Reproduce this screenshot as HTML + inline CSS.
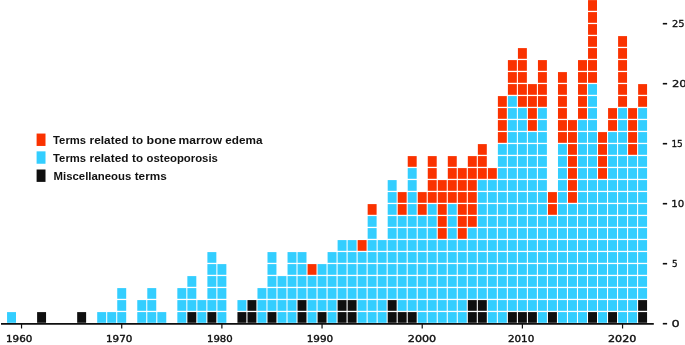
<!DOCTYPE html>
<html lang="en">
<head>
<meta charset="utf-8">
<title>Terms per year</title>
<style>
html,body{margin:0;padding:0;background:#fff;}
body{width:685px;height:345px;overflow:hidden;}
svg{display:block;}
.lg{font-family:"Liberation Sans",sans-serif;font-weight:bold;font-size:11.6px;fill:#111;}
.ax{font-family:"DejaVu Sans","Liberation Sans",sans-serif;font-size:8.8px;fill:#0f0f0f;stroke:#0f0f0f;stroke-width:0.35px;}
.ay{font-family:"DejaVu Sans","Liberation Sans",sans-serif;font-size:9.4px;fill:#0f0f0f;stroke:#0f0f0f;stroke-width:0.3px;}
</style>
</head>
<body>
<svg width="685" height="345" viewBox="0 0 685 345">
<rect x="0" y="0" width="685" height="345" fill="#ffffff"/>
<g fill="#33ceff">
<rect x="7.05" y="312.10" width="8.95" height="10.70"/>
<rect x="97.20" y="312.10" width="8.95" height="10.70"/>
<rect x="107.22" y="312.10" width="8.95" height="10.70"/>
<rect x="117.24" y="312.10" width="8.95" height="10.70"/>
<rect x="117.24" y="300.10" width="8.95" height="10.70"/>
<rect x="117.24" y="288.10" width="8.95" height="10.70"/>
<rect x="137.27" y="312.10" width="8.95" height="10.70"/>
<rect x="137.27" y="300.10" width="8.95" height="10.70"/>
<rect x="147.29" y="312.10" width="8.95" height="10.70"/>
<rect x="147.29" y="300.10" width="8.95" height="10.70"/>
<rect x="147.29" y="288.10" width="8.95" height="10.70"/>
<rect x="157.31" y="312.10" width="8.95" height="10.70"/>
<rect x="177.34" y="312.10" width="8.95" height="10.70"/>
<rect x="177.34" y="300.10" width="8.95" height="10.70"/>
<rect x="177.34" y="288.10" width="8.95" height="10.70"/>
<rect x="187.36" y="300.10" width="8.95" height="10.70"/>
<rect x="187.36" y="288.10" width="8.95" height="10.70"/>
<rect x="187.36" y="276.10" width="8.95" height="10.70"/>
<rect x="197.37" y="312.10" width="8.95" height="10.70"/>
<rect x="197.37" y="300.10" width="8.95" height="10.70"/>
<rect x="207.39" y="300.10" width="8.95" height="10.70"/>
<rect x="207.39" y="288.10" width="8.95" height="10.70"/>
<rect x="207.39" y="276.10" width="8.95" height="10.70"/>
<rect x="207.39" y="264.10" width="8.95" height="10.70"/>
<rect x="207.39" y="252.10" width="8.95" height="10.70"/>
<rect x="217.41" y="312.10" width="8.95" height="10.70"/>
<rect x="217.41" y="300.10" width="8.95" height="10.70"/>
<rect x="217.41" y="288.10" width="8.95" height="10.70"/>
<rect x="217.41" y="276.10" width="8.95" height="10.70"/>
<rect x="217.41" y="264.10" width="8.95" height="10.70"/>
<rect x="237.44" y="300.10" width="8.95" height="10.70"/>
<rect x="257.47" y="312.10" width="8.95" height="10.70"/>
<rect x="257.47" y="300.10" width="8.95" height="10.70"/>
<rect x="257.47" y="288.10" width="8.95" height="10.70"/>
<rect x="267.49" y="300.10" width="8.95" height="10.70"/>
<rect x="267.49" y="288.10" width="8.95" height="10.70"/>
<rect x="267.49" y="276.10" width="8.95" height="10.70"/>
<rect x="267.49" y="264.10" width="8.95" height="10.70"/>
<rect x="267.49" y="252.10" width="8.95" height="10.70"/>
<rect x="277.51" y="312.10" width="8.95" height="10.70"/>
<rect x="277.51" y="300.10" width="8.95" height="10.70"/>
<rect x="277.51" y="288.10" width="8.95" height="10.70"/>
<rect x="277.51" y="276.10" width="8.95" height="10.70"/>
<rect x="287.53" y="312.10" width="8.95" height="10.70"/>
<rect x="287.53" y="300.10" width="8.95" height="10.70"/>
<rect x="287.53" y="288.10" width="8.95" height="10.70"/>
<rect x="287.53" y="276.10" width="8.95" height="10.70"/>
<rect x="287.53" y="264.10" width="8.95" height="10.70"/>
<rect x="287.53" y="252.10" width="8.95" height="10.70"/>
<rect x="297.54" y="288.10" width="8.95" height="10.70"/>
<rect x="297.54" y="276.10" width="8.95" height="10.70"/>
<rect x="297.54" y="264.10" width="8.95" height="10.70"/>
<rect x="297.54" y="252.10" width="8.95" height="10.70"/>
<rect x="307.56" y="312.10" width="8.95" height="10.70"/>
<rect x="307.56" y="300.10" width="8.95" height="10.70"/>
<rect x="307.56" y="288.10" width="8.95" height="10.70"/>
<rect x="307.56" y="276.10" width="8.95" height="10.70"/>
<rect x="317.58" y="300.10" width="8.95" height="10.70"/>
<rect x="317.58" y="288.10" width="8.95" height="10.70"/>
<rect x="317.58" y="276.10" width="8.95" height="10.70"/>
<rect x="317.58" y="264.10" width="8.95" height="10.70"/>
<rect x="327.59" y="312.10" width="8.95" height="10.70"/>
<rect x="327.59" y="300.10" width="8.95" height="10.70"/>
<rect x="327.59" y="288.10" width="8.95" height="10.70"/>
<rect x="327.59" y="276.10" width="8.95" height="10.70"/>
<rect x="327.59" y="264.10" width="8.95" height="10.70"/>
<rect x="327.59" y="252.10" width="8.95" height="10.70"/>
<rect x="337.61" y="288.10" width="8.95" height="10.70"/>
<rect x="337.61" y="276.10" width="8.95" height="10.70"/>
<rect x="337.61" y="264.10" width="8.95" height="10.70"/>
<rect x="337.61" y="252.10" width="8.95" height="10.70"/>
<rect x="337.61" y="240.10" width="8.95" height="10.70"/>
<rect x="347.63" y="288.10" width="8.95" height="10.70"/>
<rect x="347.63" y="276.10" width="8.95" height="10.70"/>
<rect x="347.63" y="264.10" width="8.95" height="10.70"/>
<rect x="347.63" y="252.10" width="8.95" height="10.70"/>
<rect x="347.63" y="240.10" width="8.95" height="10.70"/>
<rect x="357.64" y="312.10" width="8.95" height="10.70"/>
<rect x="357.64" y="300.10" width="8.95" height="10.70"/>
<rect x="357.64" y="288.10" width="8.95" height="10.70"/>
<rect x="357.64" y="276.10" width="8.95" height="10.70"/>
<rect x="357.64" y="264.10" width="8.95" height="10.70"/>
<rect x="357.64" y="252.10" width="8.95" height="10.70"/>
<rect x="367.66" y="312.10" width="8.95" height="10.70"/>
<rect x="367.66" y="300.10" width="8.95" height="10.70"/>
<rect x="367.66" y="288.10" width="8.95" height="10.70"/>
<rect x="367.66" y="276.10" width="8.95" height="10.70"/>
<rect x="367.66" y="264.10" width="8.95" height="10.70"/>
<rect x="367.66" y="252.10" width="8.95" height="10.70"/>
<rect x="367.66" y="240.10" width="8.95" height="10.70"/>
<rect x="367.66" y="228.10" width="8.95" height="10.70"/>
<rect x="367.66" y="216.10" width="8.95" height="10.70"/>
<rect x="377.68" y="312.10" width="8.95" height="10.70"/>
<rect x="377.68" y="300.10" width="8.95" height="10.70"/>
<rect x="377.68" y="288.10" width="8.95" height="10.70"/>
<rect x="377.68" y="276.10" width="8.95" height="10.70"/>
<rect x="377.68" y="264.10" width="8.95" height="10.70"/>
<rect x="377.68" y="252.10" width="8.95" height="10.70"/>
<rect x="377.68" y="240.10" width="8.95" height="10.70"/>
<rect x="387.70" y="288.10" width="8.95" height="10.70"/>
<rect x="387.70" y="276.10" width="8.95" height="10.70"/>
<rect x="387.70" y="264.10" width="8.95" height="10.70"/>
<rect x="387.70" y="252.10" width="8.95" height="10.70"/>
<rect x="387.70" y="240.10" width="8.95" height="10.70"/>
<rect x="387.70" y="228.10" width="8.95" height="10.70"/>
<rect x="387.70" y="216.10" width="8.95" height="10.70"/>
<rect x="387.70" y="204.10" width="8.95" height="10.70"/>
<rect x="387.70" y="192.10" width="8.95" height="10.70"/>
<rect x="387.70" y="180.10" width="8.95" height="10.70"/>
<rect x="397.71" y="300.10" width="8.95" height="10.70"/>
<rect x="397.71" y="288.10" width="8.95" height="10.70"/>
<rect x="397.71" y="276.10" width="8.95" height="10.70"/>
<rect x="397.71" y="264.10" width="8.95" height="10.70"/>
<rect x="397.71" y="252.10" width="8.95" height="10.70"/>
<rect x="397.71" y="240.10" width="8.95" height="10.70"/>
<rect x="397.71" y="228.10" width="8.95" height="10.70"/>
<rect x="397.71" y="216.10" width="8.95" height="10.70"/>
<rect x="407.73" y="300.10" width="8.95" height="10.70"/>
<rect x="407.73" y="288.10" width="8.95" height="10.70"/>
<rect x="407.73" y="276.10" width="8.95" height="10.70"/>
<rect x="407.73" y="264.10" width="8.95" height="10.70"/>
<rect x="407.73" y="252.10" width="8.95" height="10.70"/>
<rect x="407.73" y="240.10" width="8.95" height="10.70"/>
<rect x="407.73" y="228.10" width="8.95" height="10.70"/>
<rect x="407.73" y="216.10" width="8.95" height="10.70"/>
<rect x="407.73" y="204.10" width="8.95" height="10.70"/>
<rect x="407.73" y="192.10" width="8.95" height="10.70"/>
<rect x="407.73" y="180.10" width="8.95" height="10.70"/>
<rect x="407.73" y="168.10" width="8.95" height="10.70"/>
<rect x="417.75" y="312.10" width="8.95" height="10.70"/>
<rect x="417.75" y="300.10" width="8.95" height="10.70"/>
<rect x="417.75" y="288.10" width="8.95" height="10.70"/>
<rect x="417.75" y="276.10" width="8.95" height="10.70"/>
<rect x="417.75" y="264.10" width="8.95" height="10.70"/>
<rect x="417.75" y="252.10" width="8.95" height="10.70"/>
<rect x="417.75" y="240.10" width="8.95" height="10.70"/>
<rect x="417.75" y="228.10" width="8.95" height="10.70"/>
<rect x="417.75" y="216.10" width="8.95" height="10.70"/>
<rect x="427.76" y="312.10" width="8.95" height="10.70"/>
<rect x="427.76" y="300.10" width="8.95" height="10.70"/>
<rect x="427.76" y="288.10" width="8.95" height="10.70"/>
<rect x="427.76" y="276.10" width="8.95" height="10.70"/>
<rect x="427.76" y="264.10" width="8.95" height="10.70"/>
<rect x="427.76" y="252.10" width="8.95" height="10.70"/>
<rect x="427.76" y="240.10" width="8.95" height="10.70"/>
<rect x="427.76" y="228.10" width="8.95" height="10.70"/>
<rect x="427.76" y="216.10" width="8.95" height="10.70"/>
<rect x="427.76" y="204.10" width="8.95" height="10.70"/>
<rect x="437.78" y="312.10" width="8.95" height="10.70"/>
<rect x="437.78" y="300.10" width="8.95" height="10.70"/>
<rect x="437.78" y="288.10" width="8.95" height="10.70"/>
<rect x="437.78" y="276.10" width="8.95" height="10.70"/>
<rect x="437.78" y="264.10" width="8.95" height="10.70"/>
<rect x="437.78" y="252.10" width="8.95" height="10.70"/>
<rect x="437.78" y="240.10" width="8.95" height="10.70"/>
<rect x="447.80" y="312.10" width="8.95" height="10.70"/>
<rect x="447.80" y="300.10" width="8.95" height="10.70"/>
<rect x="447.80" y="288.10" width="8.95" height="10.70"/>
<rect x="447.80" y="276.10" width="8.95" height="10.70"/>
<rect x="447.80" y="264.10" width="8.95" height="10.70"/>
<rect x="447.80" y="252.10" width="8.95" height="10.70"/>
<rect x="447.80" y="240.10" width="8.95" height="10.70"/>
<rect x="447.80" y="228.10" width="8.95" height="10.70"/>
<rect x="447.80" y="216.10" width="8.95" height="10.70"/>
<rect x="447.80" y="204.10" width="8.95" height="10.70"/>
<rect x="457.81" y="312.10" width="8.95" height="10.70"/>
<rect x="457.81" y="300.10" width="8.95" height="10.70"/>
<rect x="457.81" y="288.10" width="8.95" height="10.70"/>
<rect x="457.81" y="276.10" width="8.95" height="10.70"/>
<rect x="457.81" y="264.10" width="8.95" height="10.70"/>
<rect x="457.81" y="252.10" width="8.95" height="10.70"/>
<rect x="457.81" y="240.10" width="8.95" height="10.70"/>
<rect x="467.83" y="288.10" width="8.95" height="10.70"/>
<rect x="467.83" y="276.10" width="8.95" height="10.70"/>
<rect x="467.83" y="264.10" width="8.95" height="10.70"/>
<rect x="467.83" y="252.10" width="8.95" height="10.70"/>
<rect x="467.83" y="240.10" width="8.95" height="10.70"/>
<rect x="467.83" y="228.10" width="8.95" height="10.70"/>
<rect x="477.85" y="288.10" width="8.95" height="10.70"/>
<rect x="477.85" y="276.10" width="8.95" height="10.70"/>
<rect x="477.85" y="264.10" width="8.95" height="10.70"/>
<rect x="477.85" y="252.10" width="8.95" height="10.70"/>
<rect x="477.85" y="240.10" width="8.95" height="10.70"/>
<rect x="477.85" y="228.10" width="8.95" height="10.70"/>
<rect x="477.85" y="216.10" width="8.95" height="10.70"/>
<rect x="477.85" y="204.10" width="8.95" height="10.70"/>
<rect x="477.85" y="192.10" width="8.95" height="10.70"/>
<rect x="477.85" y="180.10" width="8.95" height="10.70"/>
<rect x="487.87" y="312.10" width="8.95" height="10.70"/>
<rect x="487.87" y="300.10" width="8.95" height="10.70"/>
<rect x="487.87" y="288.10" width="8.95" height="10.70"/>
<rect x="487.87" y="276.10" width="8.95" height="10.70"/>
<rect x="487.87" y="264.10" width="8.95" height="10.70"/>
<rect x="487.87" y="252.10" width="8.95" height="10.70"/>
<rect x="487.87" y="240.10" width="8.95" height="10.70"/>
<rect x="487.87" y="228.10" width="8.95" height="10.70"/>
<rect x="487.87" y="216.10" width="8.95" height="10.70"/>
<rect x="487.87" y="204.10" width="8.95" height="10.70"/>
<rect x="487.87" y="192.10" width="8.95" height="10.70"/>
<rect x="487.87" y="180.10" width="8.95" height="10.70"/>
<rect x="497.88" y="312.10" width="8.95" height="10.70"/>
<rect x="497.88" y="300.10" width="8.95" height="10.70"/>
<rect x="497.88" y="288.10" width="8.95" height="10.70"/>
<rect x="497.88" y="276.10" width="8.95" height="10.70"/>
<rect x="497.88" y="264.10" width="8.95" height="10.70"/>
<rect x="497.88" y="252.10" width="8.95" height="10.70"/>
<rect x="497.88" y="240.10" width="8.95" height="10.70"/>
<rect x="497.88" y="228.10" width="8.95" height="10.70"/>
<rect x="497.88" y="216.10" width="8.95" height="10.70"/>
<rect x="497.88" y="204.10" width="8.95" height="10.70"/>
<rect x="497.88" y="192.10" width="8.95" height="10.70"/>
<rect x="497.88" y="180.10" width="8.95" height="10.70"/>
<rect x="497.88" y="168.10" width="8.95" height="10.70"/>
<rect x="497.88" y="156.10" width="8.95" height="10.70"/>
<rect x="497.88" y="144.10" width="8.95" height="10.70"/>
<rect x="507.90" y="300.10" width="8.95" height="10.70"/>
<rect x="507.90" y="288.10" width="8.95" height="10.70"/>
<rect x="507.90" y="276.10" width="8.95" height="10.70"/>
<rect x="507.90" y="264.10" width="8.95" height="10.70"/>
<rect x="507.90" y="252.10" width="8.95" height="10.70"/>
<rect x="507.90" y="240.10" width="8.95" height="10.70"/>
<rect x="507.90" y="228.10" width="8.95" height="10.70"/>
<rect x="507.90" y="216.10" width="8.95" height="10.70"/>
<rect x="507.90" y="204.10" width="8.95" height="10.70"/>
<rect x="507.90" y="192.10" width="8.95" height="10.70"/>
<rect x="507.90" y="180.10" width="8.95" height="10.70"/>
<rect x="507.90" y="168.10" width="8.95" height="10.70"/>
<rect x="507.90" y="156.10" width="8.95" height="10.70"/>
<rect x="507.90" y="144.10" width="8.95" height="10.70"/>
<rect x="507.90" y="132.10" width="8.95" height="10.70"/>
<rect x="507.90" y="120.10" width="8.95" height="10.70"/>
<rect x="507.90" y="108.10" width="8.95" height="10.70"/>
<rect x="507.90" y="96.10" width="8.95" height="10.70"/>
<rect x="517.92" y="300.10" width="8.95" height="10.70"/>
<rect x="517.92" y="288.10" width="8.95" height="10.70"/>
<rect x="517.92" y="276.10" width="8.95" height="10.70"/>
<rect x="517.92" y="264.10" width="8.95" height="10.70"/>
<rect x="517.92" y="252.10" width="8.95" height="10.70"/>
<rect x="517.92" y="240.10" width="8.95" height="10.70"/>
<rect x="517.92" y="228.10" width="8.95" height="10.70"/>
<rect x="517.92" y="216.10" width="8.95" height="10.70"/>
<rect x="517.92" y="204.10" width="8.95" height="10.70"/>
<rect x="517.92" y="192.10" width="8.95" height="10.70"/>
<rect x="517.92" y="180.10" width="8.95" height="10.70"/>
<rect x="517.92" y="168.10" width="8.95" height="10.70"/>
<rect x="517.92" y="156.10" width="8.95" height="10.70"/>
<rect x="517.92" y="144.10" width="8.95" height="10.70"/>
<rect x="517.92" y="132.10" width="8.95" height="10.70"/>
<rect x="517.92" y="120.10" width="8.95" height="10.70"/>
<rect x="517.92" y="108.10" width="8.95" height="10.70"/>
<rect x="527.93" y="300.10" width="8.95" height="10.70"/>
<rect x="527.93" y="288.10" width="8.95" height="10.70"/>
<rect x="527.93" y="276.10" width="8.95" height="10.70"/>
<rect x="527.93" y="264.10" width="8.95" height="10.70"/>
<rect x="527.93" y="252.10" width="8.95" height="10.70"/>
<rect x="527.93" y="240.10" width="8.95" height="10.70"/>
<rect x="527.93" y="228.10" width="8.95" height="10.70"/>
<rect x="527.93" y="216.10" width="8.95" height="10.70"/>
<rect x="527.93" y="204.10" width="8.95" height="10.70"/>
<rect x="527.93" y="192.10" width="8.95" height="10.70"/>
<rect x="527.93" y="180.10" width="8.95" height="10.70"/>
<rect x="527.93" y="168.10" width="8.95" height="10.70"/>
<rect x="527.93" y="156.10" width="8.95" height="10.70"/>
<rect x="527.93" y="144.10" width="8.95" height="10.70"/>
<rect x="527.93" y="132.10" width="8.95" height="10.70"/>
<rect x="537.95" y="312.10" width="8.95" height="10.70"/>
<rect x="537.95" y="300.10" width="8.95" height="10.70"/>
<rect x="537.95" y="288.10" width="8.95" height="10.70"/>
<rect x="537.95" y="276.10" width="8.95" height="10.70"/>
<rect x="537.95" y="264.10" width="8.95" height="10.70"/>
<rect x="537.95" y="252.10" width="8.95" height="10.70"/>
<rect x="537.95" y="240.10" width="8.95" height="10.70"/>
<rect x="537.95" y="228.10" width="8.95" height="10.70"/>
<rect x="537.95" y="216.10" width="8.95" height="10.70"/>
<rect x="537.95" y="204.10" width="8.95" height="10.70"/>
<rect x="537.95" y="192.10" width="8.95" height="10.70"/>
<rect x="537.95" y="180.10" width="8.95" height="10.70"/>
<rect x="537.95" y="168.10" width="8.95" height="10.70"/>
<rect x="537.95" y="156.10" width="8.95" height="10.70"/>
<rect x="537.95" y="144.10" width="8.95" height="10.70"/>
<rect x="537.95" y="132.10" width="8.95" height="10.70"/>
<rect x="537.95" y="120.10" width="8.95" height="10.70"/>
<rect x="537.95" y="108.10" width="8.95" height="10.70"/>
<rect x="547.97" y="300.10" width="8.95" height="10.70"/>
<rect x="547.97" y="288.10" width="8.95" height="10.70"/>
<rect x="547.97" y="276.10" width="8.95" height="10.70"/>
<rect x="547.97" y="264.10" width="8.95" height="10.70"/>
<rect x="547.97" y="252.10" width="8.95" height="10.70"/>
<rect x="547.97" y="240.10" width="8.95" height="10.70"/>
<rect x="547.97" y="228.10" width="8.95" height="10.70"/>
<rect x="547.97" y="216.10" width="8.95" height="10.70"/>
<rect x="557.98" y="312.10" width="8.95" height="10.70"/>
<rect x="557.98" y="300.10" width="8.95" height="10.70"/>
<rect x="557.98" y="288.10" width="8.95" height="10.70"/>
<rect x="557.98" y="276.10" width="8.95" height="10.70"/>
<rect x="557.98" y="264.10" width="8.95" height="10.70"/>
<rect x="557.98" y="252.10" width="8.95" height="10.70"/>
<rect x="557.98" y="240.10" width="8.95" height="10.70"/>
<rect x="557.98" y="228.10" width="8.95" height="10.70"/>
<rect x="557.98" y="216.10" width="8.95" height="10.70"/>
<rect x="557.98" y="204.10" width="8.95" height="10.70"/>
<rect x="557.98" y="192.10" width="8.95" height="10.70"/>
<rect x="557.98" y="180.10" width="8.95" height="10.70"/>
<rect x="557.98" y="168.10" width="8.95" height="10.70"/>
<rect x="557.98" y="156.10" width="8.95" height="10.70"/>
<rect x="557.98" y="144.10" width="8.95" height="10.70"/>
<rect x="568.00" y="312.10" width="8.95" height="10.70"/>
<rect x="568.00" y="300.10" width="8.95" height="10.70"/>
<rect x="568.00" y="288.10" width="8.95" height="10.70"/>
<rect x="568.00" y="276.10" width="8.95" height="10.70"/>
<rect x="568.00" y="264.10" width="8.95" height="10.70"/>
<rect x="568.00" y="252.10" width="8.95" height="10.70"/>
<rect x="568.00" y="240.10" width="8.95" height="10.70"/>
<rect x="568.00" y="228.10" width="8.95" height="10.70"/>
<rect x="568.00" y="216.10" width="8.95" height="10.70"/>
<rect x="568.00" y="204.10" width="8.95" height="10.70"/>
<rect x="578.02" y="312.10" width="8.95" height="10.70"/>
<rect x="578.02" y="300.10" width="8.95" height="10.70"/>
<rect x="578.02" y="288.10" width="8.95" height="10.70"/>
<rect x="578.02" y="276.10" width="8.95" height="10.70"/>
<rect x="578.02" y="264.10" width="8.95" height="10.70"/>
<rect x="578.02" y="252.10" width="8.95" height="10.70"/>
<rect x="578.02" y="240.10" width="8.95" height="10.70"/>
<rect x="578.02" y="228.10" width="8.95" height="10.70"/>
<rect x="578.02" y="216.10" width="8.95" height="10.70"/>
<rect x="578.02" y="204.10" width="8.95" height="10.70"/>
<rect x="578.02" y="192.10" width="8.95" height="10.70"/>
<rect x="578.02" y="180.10" width="8.95" height="10.70"/>
<rect x="578.02" y="168.10" width="8.95" height="10.70"/>
<rect x="578.02" y="156.10" width="8.95" height="10.70"/>
<rect x="578.02" y="144.10" width="8.95" height="10.70"/>
<rect x="578.02" y="132.10" width="8.95" height="10.70"/>
<rect x="578.02" y="120.10" width="8.95" height="10.70"/>
<rect x="588.04" y="300.10" width="8.95" height="10.70"/>
<rect x="588.04" y="288.10" width="8.95" height="10.70"/>
<rect x="588.04" y="276.10" width="8.95" height="10.70"/>
<rect x="588.04" y="264.10" width="8.95" height="10.70"/>
<rect x="588.04" y="252.10" width="8.95" height="10.70"/>
<rect x="588.04" y="240.10" width="8.95" height="10.70"/>
<rect x="588.04" y="228.10" width="8.95" height="10.70"/>
<rect x="588.04" y="216.10" width="8.95" height="10.70"/>
<rect x="588.04" y="204.10" width="8.95" height="10.70"/>
<rect x="588.04" y="192.10" width="8.95" height="10.70"/>
<rect x="588.04" y="180.10" width="8.95" height="10.70"/>
<rect x="588.04" y="168.10" width="8.95" height="10.70"/>
<rect x="588.04" y="156.10" width="8.95" height="10.70"/>
<rect x="588.04" y="144.10" width="8.95" height="10.70"/>
<rect x="588.04" y="132.10" width="8.95" height="10.70"/>
<rect x="588.04" y="120.10" width="8.95" height="10.70"/>
<rect x="588.04" y="108.10" width="8.95" height="10.70"/>
<rect x="588.04" y="96.10" width="8.95" height="10.70"/>
<rect x="588.04" y="84.10" width="8.95" height="10.70"/>
<rect x="598.05" y="312.10" width="8.95" height="10.70"/>
<rect x="598.05" y="300.10" width="8.95" height="10.70"/>
<rect x="598.05" y="288.10" width="8.95" height="10.70"/>
<rect x="598.05" y="276.10" width="8.95" height="10.70"/>
<rect x="598.05" y="264.10" width="8.95" height="10.70"/>
<rect x="598.05" y="252.10" width="8.95" height="10.70"/>
<rect x="598.05" y="240.10" width="8.95" height="10.70"/>
<rect x="598.05" y="228.10" width="8.95" height="10.70"/>
<rect x="598.05" y="216.10" width="8.95" height="10.70"/>
<rect x="598.05" y="204.10" width="8.95" height="10.70"/>
<rect x="598.05" y="192.10" width="8.95" height="10.70"/>
<rect x="598.05" y="180.10" width="8.95" height="10.70"/>
<rect x="608.07" y="300.10" width="8.95" height="10.70"/>
<rect x="608.07" y="288.10" width="8.95" height="10.70"/>
<rect x="608.07" y="276.10" width="8.95" height="10.70"/>
<rect x="608.07" y="264.10" width="8.95" height="10.70"/>
<rect x="608.07" y="252.10" width="8.95" height="10.70"/>
<rect x="608.07" y="240.10" width="8.95" height="10.70"/>
<rect x="608.07" y="228.10" width="8.95" height="10.70"/>
<rect x="608.07" y="216.10" width="8.95" height="10.70"/>
<rect x="608.07" y="204.10" width="8.95" height="10.70"/>
<rect x="608.07" y="192.10" width="8.95" height="10.70"/>
<rect x="608.07" y="180.10" width="8.95" height="10.70"/>
<rect x="608.07" y="168.10" width="8.95" height="10.70"/>
<rect x="608.07" y="156.10" width="8.95" height="10.70"/>
<rect x="608.07" y="144.10" width="8.95" height="10.70"/>
<rect x="608.07" y="132.10" width="8.95" height="10.70"/>
<rect x="618.09" y="312.10" width="8.95" height="10.70"/>
<rect x="618.09" y="300.10" width="8.95" height="10.70"/>
<rect x="618.09" y="288.10" width="8.95" height="10.70"/>
<rect x="618.09" y="276.10" width="8.95" height="10.70"/>
<rect x="618.09" y="264.10" width="8.95" height="10.70"/>
<rect x="618.09" y="252.10" width="8.95" height="10.70"/>
<rect x="618.09" y="240.10" width="8.95" height="10.70"/>
<rect x="618.09" y="228.10" width="8.95" height="10.70"/>
<rect x="618.09" y="216.10" width="8.95" height="10.70"/>
<rect x="618.09" y="204.10" width="8.95" height="10.70"/>
<rect x="618.09" y="192.10" width="8.95" height="10.70"/>
<rect x="618.09" y="180.10" width="8.95" height="10.70"/>
<rect x="618.09" y="168.10" width="8.95" height="10.70"/>
<rect x="618.09" y="156.10" width="8.95" height="10.70"/>
<rect x="618.09" y="144.10" width="8.95" height="10.70"/>
<rect x="618.09" y="132.10" width="8.95" height="10.70"/>
<rect x="618.09" y="120.10" width="8.95" height="10.70"/>
<rect x="618.09" y="108.10" width="8.95" height="10.70"/>
<rect x="628.10" y="312.10" width="8.95" height="10.70"/>
<rect x="628.10" y="300.10" width="8.95" height="10.70"/>
<rect x="628.10" y="288.10" width="8.95" height="10.70"/>
<rect x="628.10" y="276.10" width="8.95" height="10.70"/>
<rect x="628.10" y="264.10" width="8.95" height="10.70"/>
<rect x="628.10" y="252.10" width="8.95" height="10.70"/>
<rect x="628.10" y="240.10" width="8.95" height="10.70"/>
<rect x="628.10" y="228.10" width="8.95" height="10.70"/>
<rect x="628.10" y="216.10" width="8.95" height="10.70"/>
<rect x="628.10" y="204.10" width="8.95" height="10.70"/>
<rect x="628.10" y="192.10" width="8.95" height="10.70"/>
<rect x="628.10" y="180.10" width="8.95" height="10.70"/>
<rect x="628.10" y="168.10" width="8.95" height="10.70"/>
<rect x="628.10" y="156.10" width="8.95" height="10.70"/>
<rect x="638.12" y="288.10" width="8.95" height="10.70"/>
<rect x="638.12" y="276.10" width="8.95" height="10.70"/>
<rect x="638.12" y="264.10" width="8.95" height="10.70"/>
<rect x="638.12" y="252.10" width="8.95" height="10.70"/>
<rect x="638.12" y="240.10" width="8.95" height="10.70"/>
<rect x="638.12" y="228.10" width="8.95" height="10.70"/>
<rect x="638.12" y="216.10" width="8.95" height="10.70"/>
<rect x="638.12" y="204.10" width="8.95" height="10.70"/>
<rect x="638.12" y="192.10" width="8.95" height="10.70"/>
<rect x="638.12" y="180.10" width="8.95" height="10.70"/>
<rect x="638.12" y="168.10" width="8.95" height="10.70"/>
<rect x="638.12" y="156.10" width="8.95" height="10.70"/>
<rect x="638.12" y="144.10" width="8.95" height="10.70"/>
<rect x="638.12" y="132.10" width="8.95" height="10.70"/>
<rect x="638.12" y="120.10" width="8.95" height="10.70"/>
<rect x="638.12" y="108.10" width="8.95" height="10.70"/>
</g>
<g fill="#fa3200">
<rect x="307.56" y="264.10" width="8.95" height="10.70"/>
<rect x="357.64" y="240.10" width="8.95" height="10.70"/>
<rect x="367.66" y="204.10" width="8.95" height="10.70"/>
<rect x="397.71" y="204.10" width="8.95" height="10.70"/>
<rect x="397.71" y="192.10" width="8.95" height="10.70"/>
<rect x="407.73" y="156.10" width="8.95" height="10.70"/>
<rect x="417.75" y="204.10" width="8.95" height="10.70"/>
<rect x="417.75" y="192.10" width="8.95" height="10.70"/>
<rect x="427.76" y="192.10" width="8.95" height="10.70"/>
<rect x="427.76" y="180.10" width="8.95" height="10.70"/>
<rect x="427.76" y="168.10" width="8.95" height="10.70"/>
<rect x="427.76" y="156.10" width="8.95" height="10.70"/>
<rect x="437.78" y="228.10" width="8.95" height="10.70"/>
<rect x="437.78" y="216.10" width="8.95" height="10.70"/>
<rect x="437.78" y="204.10" width="8.95" height="10.70"/>
<rect x="437.78" y="192.10" width="8.95" height="10.70"/>
<rect x="437.78" y="180.10" width="8.95" height="10.70"/>
<rect x="447.80" y="192.10" width="8.95" height="10.70"/>
<rect x="447.80" y="180.10" width="8.95" height="10.70"/>
<rect x="447.80" y="168.10" width="8.95" height="10.70"/>
<rect x="447.80" y="156.10" width="8.95" height="10.70"/>
<rect x="457.81" y="228.10" width="8.95" height="10.70"/>
<rect x="457.81" y="216.10" width="8.95" height="10.70"/>
<rect x="457.81" y="204.10" width="8.95" height="10.70"/>
<rect x="457.81" y="192.10" width="8.95" height="10.70"/>
<rect x="457.81" y="180.10" width="8.95" height="10.70"/>
<rect x="457.81" y="168.10" width="8.95" height="10.70"/>
<rect x="467.83" y="216.10" width="8.95" height="10.70"/>
<rect x="467.83" y="204.10" width="8.95" height="10.70"/>
<rect x="467.83" y="192.10" width="8.95" height="10.70"/>
<rect x="467.83" y="180.10" width="8.95" height="10.70"/>
<rect x="467.83" y="168.10" width="8.95" height="10.70"/>
<rect x="467.83" y="156.10" width="8.95" height="10.70"/>
<rect x="477.85" y="168.10" width="8.95" height="10.70"/>
<rect x="477.85" y="156.10" width="8.95" height="10.70"/>
<rect x="477.85" y="144.10" width="8.95" height="10.70"/>
<rect x="487.87" y="168.10" width="8.95" height="10.70"/>
<rect x="497.88" y="132.10" width="8.95" height="10.70"/>
<rect x="497.88" y="120.10" width="8.95" height="10.70"/>
<rect x="497.88" y="108.10" width="8.95" height="10.70"/>
<rect x="497.88" y="96.10" width="8.95" height="10.70"/>
<rect x="507.90" y="84.10" width="8.95" height="10.70"/>
<rect x="507.90" y="72.10" width="8.95" height="10.70"/>
<rect x="507.90" y="60.10" width="8.95" height="10.70"/>
<rect x="517.92" y="96.10" width="8.95" height="10.70"/>
<rect x="517.92" y="84.10" width="8.95" height="10.70"/>
<rect x="517.92" y="72.10" width="8.95" height="10.70"/>
<rect x="517.92" y="60.10" width="8.95" height="10.70"/>
<rect x="517.92" y="48.10" width="8.95" height="10.70"/>
<rect x="527.93" y="120.10" width="8.95" height="10.70"/>
<rect x="527.93" y="108.10" width="8.95" height="10.70"/>
<rect x="527.93" y="96.10" width="8.95" height="10.70"/>
<rect x="527.93" y="84.10" width="8.95" height="10.70"/>
<rect x="537.95" y="96.10" width="8.95" height="10.70"/>
<rect x="537.95" y="84.10" width="8.95" height="10.70"/>
<rect x="537.95" y="72.10" width="8.95" height="10.70"/>
<rect x="537.95" y="60.10" width="8.95" height="10.70"/>
<rect x="547.97" y="204.10" width="8.95" height="10.70"/>
<rect x="547.97" y="192.10" width="8.95" height="10.70"/>
<rect x="557.98" y="132.10" width="8.95" height="10.70"/>
<rect x="557.98" y="120.10" width="8.95" height="10.70"/>
<rect x="557.98" y="108.10" width="8.95" height="10.70"/>
<rect x="557.98" y="96.10" width="8.95" height="10.70"/>
<rect x="557.98" y="84.10" width="8.95" height="10.70"/>
<rect x="557.98" y="72.10" width="8.95" height="10.70"/>
<rect x="568.00" y="192.10" width="8.95" height="10.70"/>
<rect x="568.00" y="180.10" width="8.95" height="10.70"/>
<rect x="568.00" y="168.10" width="8.95" height="10.70"/>
<rect x="568.00" y="156.10" width="8.95" height="10.70"/>
<rect x="568.00" y="144.10" width="8.95" height="10.70"/>
<rect x="568.00" y="132.10" width="8.95" height="10.70"/>
<rect x="568.00" y="120.10" width="8.95" height="10.70"/>
<rect x="578.02" y="108.10" width="8.95" height="10.70"/>
<rect x="578.02" y="96.10" width="8.95" height="10.70"/>
<rect x="578.02" y="84.10" width="8.95" height="10.70"/>
<rect x="578.02" y="72.10" width="8.95" height="10.70"/>
<rect x="578.02" y="60.10" width="8.95" height="10.70"/>
<rect x="588.04" y="72.10" width="8.95" height="10.70"/>
<rect x="588.04" y="60.10" width="8.95" height="10.70"/>
<rect x="588.04" y="48.10" width="8.95" height="10.70"/>
<rect x="588.04" y="36.10" width="8.95" height="10.70"/>
<rect x="588.04" y="24.10" width="8.95" height="10.70"/>
<rect x="588.04" y="12.10" width="8.95" height="10.70"/>
<rect x="588.04" y="0.10" width="8.95" height="10.70"/>
<rect x="598.05" y="168.10" width="8.95" height="10.70"/>
<rect x="598.05" y="156.10" width="8.95" height="10.70"/>
<rect x="598.05" y="144.10" width="8.95" height="10.70"/>
<rect x="598.05" y="132.10" width="8.95" height="10.70"/>
<rect x="608.07" y="120.10" width="8.95" height="10.70"/>
<rect x="608.07" y="108.10" width="8.95" height="10.70"/>
<rect x="618.09" y="96.10" width="8.95" height="10.70"/>
<rect x="618.09" y="84.10" width="8.95" height="10.70"/>
<rect x="618.09" y="72.10" width="8.95" height="10.70"/>
<rect x="618.09" y="60.10" width="8.95" height="10.70"/>
<rect x="618.09" y="48.10" width="8.95" height="10.70"/>
<rect x="618.09" y="36.10" width="8.95" height="10.70"/>
<rect x="628.10" y="144.10" width="8.95" height="10.70"/>
<rect x="628.10" y="132.10" width="8.95" height="10.70"/>
<rect x="628.10" y="120.10" width="8.95" height="10.70"/>
<rect x="628.10" y="108.10" width="8.95" height="10.70"/>
<rect x="638.12" y="96.10" width="8.95" height="10.70"/>
<rect x="638.12" y="84.10" width="8.95" height="10.70"/>
</g>
<g fill="#0f0f0f">
<rect x="37.10" y="312.10" width="8.95" height="10.70"/>
<rect x="77.17" y="312.10" width="8.95" height="10.70"/>
<rect x="187.36" y="312.10" width="8.95" height="10.70"/>
<rect x="207.39" y="312.10" width="8.95" height="10.70"/>
<rect x="237.44" y="312.10" width="8.95" height="10.70"/>
<rect x="247.46" y="312.10" width="8.95" height="10.70"/>
<rect x="247.46" y="300.10" width="8.95" height="10.70"/>
<rect x="267.49" y="312.10" width="8.95" height="10.70"/>
<rect x="297.54" y="312.10" width="8.95" height="10.70"/>
<rect x="297.54" y="300.10" width="8.95" height="10.70"/>
<rect x="317.58" y="312.10" width="8.95" height="10.70"/>
<rect x="337.61" y="312.10" width="8.95" height="10.70"/>
<rect x="337.61" y="300.10" width="8.95" height="10.70"/>
<rect x="347.63" y="312.10" width="8.95" height="10.70"/>
<rect x="347.63" y="300.10" width="8.95" height="10.70"/>
<rect x="387.70" y="312.10" width="8.95" height="10.70"/>
<rect x="387.70" y="300.10" width="8.95" height="10.70"/>
<rect x="397.71" y="312.10" width="8.95" height="10.70"/>
<rect x="407.73" y="312.10" width="8.95" height="10.70"/>
<rect x="467.83" y="312.10" width="8.95" height="10.70"/>
<rect x="467.83" y="300.10" width="8.95" height="10.70"/>
<rect x="477.85" y="312.10" width="8.95" height="10.70"/>
<rect x="477.85" y="300.10" width="8.95" height="10.70"/>
<rect x="507.90" y="312.10" width="8.95" height="10.70"/>
<rect x="517.92" y="312.10" width="8.95" height="10.70"/>
<rect x="527.93" y="312.10" width="8.95" height="10.70"/>
<rect x="547.97" y="312.10" width="8.95" height="10.70"/>
<rect x="588.04" y="312.10" width="8.95" height="10.70"/>
<rect x="608.07" y="312.10" width="8.95" height="10.70"/>
<rect x="638.12" y="312.10" width="8.95" height="10.70"/>
<rect x="638.12" y="300.10" width="8.95" height="10.70"/>
</g>
<line x1="1" y1="323.9" x2="653.8" y2="323.9" stroke="#0f0f0f" stroke-width="1.7"/>
<line x1="21.54" y1="324" x2="21.54" y2="328.5" stroke="#0f0f0f" stroke-width="1.2"/>
<text class="ax" x="6.00" y="342.2" textLength="26.3" lengthAdjust="spacingAndGlyphs">1960</text>
<line x1="121.71" y1="324" x2="121.71" y2="328.5" stroke="#0f0f0f" stroke-width="1.2"/>
<text class="ax" x="106.00" y="342.2" textLength="26.4" lengthAdjust="spacingAndGlyphs">1970</text>
<line x1="221.88" y1="324" x2="221.88" y2="328.5" stroke="#0f0f0f" stroke-width="1.2"/>
<text class="ax" x="207.00" y="342.2" textLength="25.7" lengthAdjust="spacingAndGlyphs">1980</text>
<line x1="322.05" y1="324" x2="322.05" y2="328.5" stroke="#0f0f0f" stroke-width="1.2"/>
<text class="ax" x="306.70" y="342.2" textLength="26.5" lengthAdjust="spacingAndGlyphs">1990</text>
<line x1="422.22" y1="324" x2="422.22" y2="328.5" stroke="#0f0f0f" stroke-width="1.2"/>
<text class="ax" x="407.80" y="342.2" textLength="28.4" lengthAdjust="spacingAndGlyphs">2000</text>
<line x1="522.39" y1="324" x2="522.39" y2="328.5" stroke="#0f0f0f" stroke-width="1.2"/>
<text class="ax" x="507.90" y="342.2" textLength="26.4" lengthAdjust="spacingAndGlyphs">2010</text>
<line x1="622.56" y1="324" x2="622.56" y2="328.5" stroke="#0f0f0f" stroke-width="1.2"/>
<text class="ax" x="608.00" y="342.2" textLength="28.4" lengthAdjust="spacingAndGlyphs">2020</text>
<line x1="662.8" y1="323.70" x2="667.1" y2="323.70" stroke="#0f0f0f" stroke-width="1.6"/>
<text class="ay" x="671.6" y="326.90" textLength="8.2" lengthAdjust="spacingAndGlyphs">0</text>
<line x1="662.8" y1="263.70" x2="667.1" y2="263.70" stroke="#0f0f0f" stroke-width="1.6"/>
<text class="ay" x="672.0" y="266.90" textLength="5.6" lengthAdjust="spacingAndGlyphs">5</text>
<line x1="662.8" y1="203.70" x2="667.1" y2="203.70" stroke="#0f0f0f" stroke-width="1.6"/>
<text class="ay" x="671.2" y="206.90" textLength="13.0" lengthAdjust="spacingAndGlyphs">10</text>
<line x1="662.8" y1="143.70" x2="667.1" y2="143.70" stroke="#0f0f0f" stroke-width="1.6"/>
<text class="ay" x="671.4" y="146.90" textLength="11.4" lengthAdjust="spacingAndGlyphs">15</text>
<line x1="662.8" y1="83.70" x2="667.1" y2="83.70" stroke="#0f0f0f" stroke-width="1.6"/>
<text class="ay" x="671.9" y="86.90" textLength="14.8" lengthAdjust="spacingAndGlyphs">20</text>
<line x1="662.8" y1="23.70" x2="667.1" y2="23.70" stroke="#0f0f0f" stroke-width="1.6"/>
<text class="ay" x="671.9" y="26.90" textLength="12.6" lengthAdjust="spacingAndGlyphs">25</text>
<rect x="36.6" y="133.55" width="8.9" height="12.4" fill="#fa3200"/>
<text class="lg" y="143.80"><tspan x="53.1" textLength="32.9" lengthAdjust="spacingAndGlyphs">Terms</tspan> <tspan x="89.6" textLength="38.9" lengthAdjust="spacingAndGlyphs">related</tspan> <tspan x="132.0" textLength="11.0" lengthAdjust="spacingAndGlyphs">to</tspan> <tspan x="146.6" textLength="29.7" lengthAdjust="spacingAndGlyphs">bone</tspan> <tspan x="178.6" textLength="43.4" lengthAdjust="spacingAndGlyphs">marrow</tspan> <tspan x="225.3" textLength="37.2" lengthAdjust="spacingAndGlyphs">edema</tspan></text>
<rect x="36.6" y="151.35" width="8.9" height="12.4" fill="#33ceff"/>
<text class="lg" y="161.65"><tspan x="53.1" textLength="32.9" lengthAdjust="spacingAndGlyphs">Terms</tspan> <tspan x="89.6" textLength="38.9" lengthAdjust="spacingAndGlyphs">related</tspan> <tspan x="132.0" textLength="11.0" lengthAdjust="spacingAndGlyphs">to</tspan> <tspan x="146.6" textLength="71.3" lengthAdjust="spacingAndGlyphs">osteoporosis</tspan></text>
<rect x="36.6" y="169.50" width="8.9" height="12.4" fill="#0f0f0f"/>
<text class="lg" y="180.00"><tspan x="53.5" textLength="77.8" lengthAdjust="spacingAndGlyphs">Miscellaneous</tspan> <tspan x="134.7" textLength="32.0" lengthAdjust="spacingAndGlyphs">terms</tspan></text>
</svg>
</body>
</html>
